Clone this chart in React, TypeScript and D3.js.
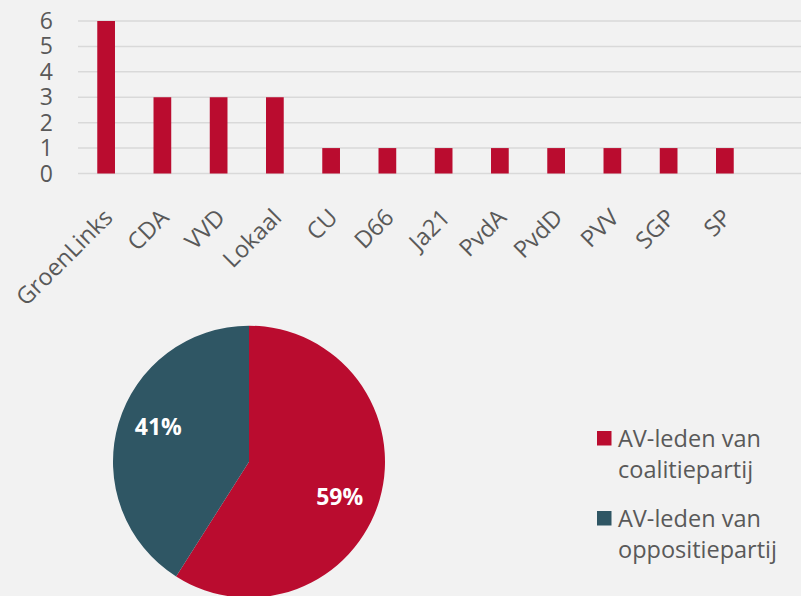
import React from "react";
import * as d3 from "d3";

const parties = ["GroenLinks", "CDA", "VVD", "Lokaal", "CU", "D66", "Ja21", "PvdA", "PvdD", "PVV", "SGP", "SP"];
const counts = [6, 3, 3, 3, 1, 1, 1, 1, 1, 1, 1, 1];
const yTicks = [0, 1, 2, 3, 4, 5, 6];

const pieLabels = ["AV-leden van coalitiepartij", "AV-leden van oppositiepartij"];
const pieLegendLines = [["AV-leden van", "coalitiepartij"], ["AV-leden van", "oppositiepartij"]];
const pieValues = [59, 41];

const W = 801;
const H = 596;
const RED = "#BA0C2F";
const TEAL = "#2F5664";
const TEXT = "#595959";
const FONT = "'Open Sans', sans-serif";

export default function App() {
  const x = d3.scaleBand<string>().domain(parties).range([78, 753]).paddingInner(0.685).paddingOuter(0.3425);
  const y = d3.scaleLinear().domain([0, 6]).range([173.5, 21]);

  const pie = d3.pie<number>().sort(null).value((d) => d)(pieValues);
  const R = 136;
  const arc = d3.arc<d3.PieArcDatum<number>>().innerRadius(0).outerRadius(R);
  const labelArc = d3.arc<d3.PieArcDatum<number>>().innerRadius(R * 0.715).outerRadius(R * 0.715);
  const cx = 249;
  const cy = 461.7;
  const colors = [RED, TEAL];
  const shift = 0.085;

  return (
    <svg width={W} height={H} style={{ position: "absolute", left: 0, top: 0, background: "#F2F2F2" }} fontFamily={FONT}>
      <rect x={0} y={0} width={W} height={H} fill="#F2F2F2" />
      {yTicks.map((t) => (
        <g key={t}>
          <line x1={78} x2={W} y1={y(t)} y2={y(t)} stroke="#D9D9D9" strokeWidth={1.5} />
          <text x={53} y={y(t)} dy="0.35em" textAnchor="end" fontSize={23} fill={TEXT}>
            {t}
          </text>
        </g>
      ))}
      {parties.map((p, i) => (
        <rect key={p} x={x(p)} y={y(counts[i])} width={x.bandwidth()} height={y(0) - y(counts[i])} fill={RED} />
      ))}
      {parties.map((p) => {
        const c = (x(p) as number) + x.bandwidth() / 2;
        return (
          <text key={p} transform={`translate(${c + 8},${219}) rotate(-45)`} textAnchor="end" fontSize={23.5} fill={TEXT}>
            {p}
          </text>
        );
      })}
      <g transform={`translate(${cx},${cy})`}>
        {pie.map((d, i) => (
          <path key={i} d={arc(d) as string} fill={colors[i]} />
        ))}
        {pie.map((d, i) => {
          const [lx, ly] = labelArc.centroid({ ...d, startAngle: d.startAngle + shift, endAngle: d.endAngle + shift });
          return (
            <text key={i} x={lx} y={ly} dy="0.35em" textAnchor="middle" fontSize={23} fontWeight="bold" fill="#FFFFFF">
              {d.data}%
            </text>
          );
        })}
      </g>
      {pieLegendLines.map((lines, i) => (
        <g key={pieLabels[i]} transform={`translate(597,${431 + i * 80})`}>
          <rect x={0} y={0} width={14.5} height={14.5} fill={colors[i]} />
          {lines.map((l, j) => (
            <text key={j} x={21} y={15.5 + j * 31.5} fontSize={23.5} fill={TEXT}>
              {l}
            </text>
          ))}
        </g>
      ))}
    </svg>
  );
}
